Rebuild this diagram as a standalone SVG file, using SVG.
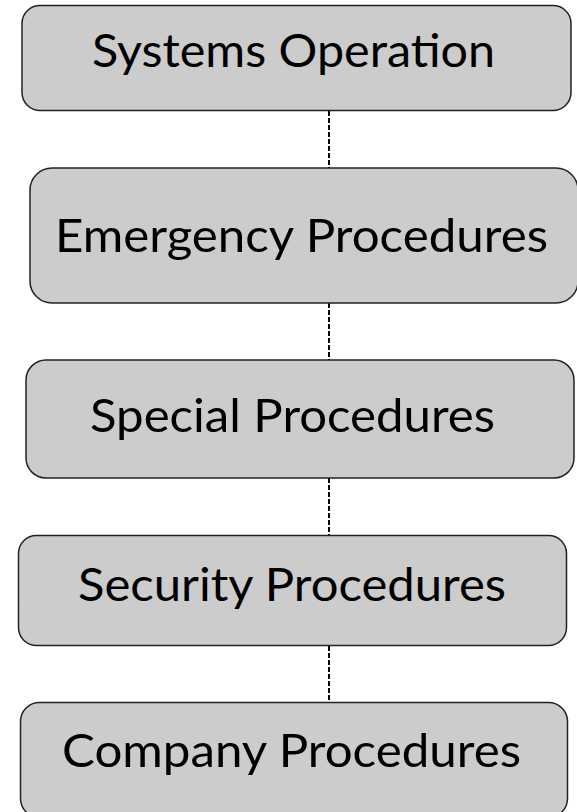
<svg xmlns="http://www.w3.org/2000/svg" width="577" height="812" viewBox="0 0 577 812">
  <style>
    .box { fill: #cccccc; stroke: #222222; stroke-width: 1.5; }
    .lbl { font-family: Lato, "Open Sans", "Liberation Sans", sans-serif; font-size: 47px; fill: #000000; }
    .link { stroke: #000000; stroke-width: 2; stroke-dasharray: 5 2; fill: none; }
  </style>
  <rect width="577" height="812" fill="#ffffff"/>

  <g id="connectors">
    <line class="link" x1="329" y1="111" x2="329" y2="168"/>
    <line class="link" x1="329" y1="303" x2="329" y2="360"/>
    <line class="link" x1="329" y1="478" x2="329" y2="535.5"/>
    <line class="link" x1="329" y1="646" x2="329" y2="702.5"/>
  </g>

  <g id="systems-operation">
    <rect class="box" x="22" y="5.5" width="549" height="105" rx="18"/>
    <text class="lbl" x="92" y="67" textLength="403" lengthAdjust="spacingAndGlyphs">Systems Operation</text>
  </g>

  <g id="emergency-procedures">
    <rect class="box" x="30" y="168" width="548" height="135" rx="22"/>
    <text class="lbl" x="55" y="252" textLength="493" lengthAdjust="spacingAndGlyphs">Emergency Procedures</text>
  </g>

  <g id="special-procedures">
    <rect class="box" x="26" y="360" width="548" height="118" rx="20"/>
    <text class="lbl" x="90" y="432" textLength="405" lengthAdjust="spacingAndGlyphs">Special Procedures</text>
  </g>

  <g id="security-procedures">
    <rect class="box" x="18.5" y="535.5" width="548" height="110" rx="18"/>
    <text class="lbl" x="78" y="601" textLength="428" lengthAdjust="spacingAndGlyphs">Security Procedures</text>
  </g>

  <g id="company-procedures">
    <rect class="box" x="20.5" y="702.5" width="547" height="115" rx="19"/>
    <text class="lbl" x="62" y="767" textLength="459" lengthAdjust="spacingAndGlyphs">Company Procedures</text>
  </g>
</svg>
